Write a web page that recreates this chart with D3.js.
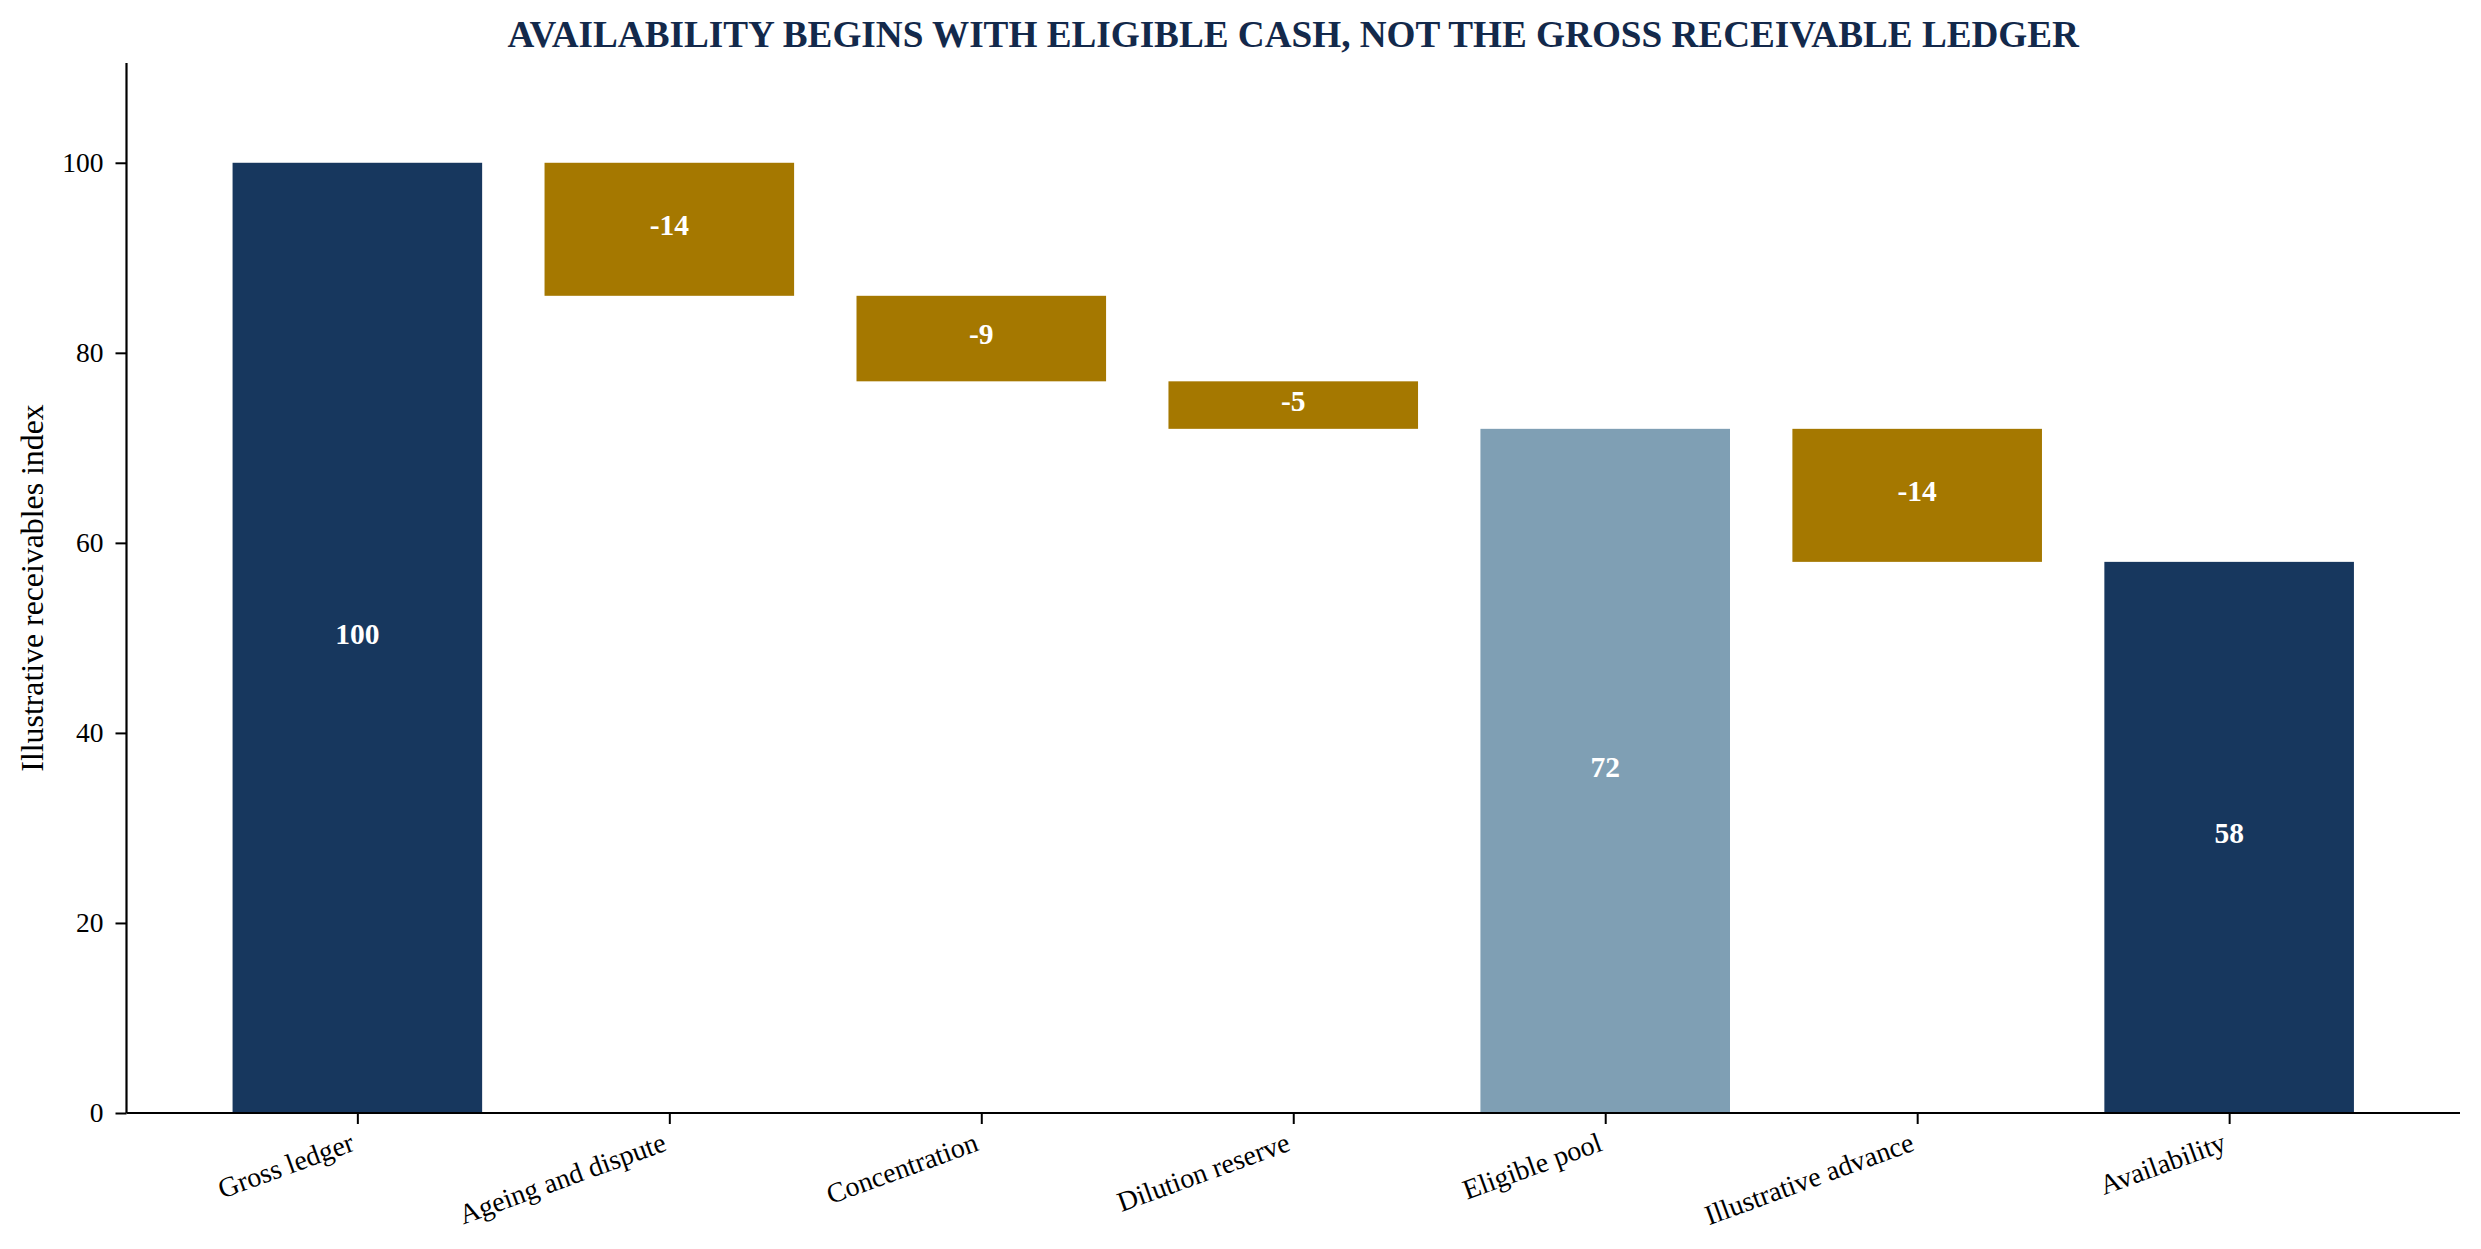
<!DOCTYPE html>
<html>
<head>
<meta charset="utf-8">
<script src="https://cdn.jsdelivr.net/npm/d3@7"></script>
<style>
  html, body { margin: 0; padding: 0; background: #ffffff; }
  svg { display: block; }
  text { font-family: "Liberation Serif", "Times New Roman", serif; }
</style>
</head>
<body>
<script>
const categories = ["Gross ledger", "Ageing and dispute", "Concentration", "Dilution reserve", "Eligible pool", "Illustrative advance", "Availability"];
const values = [100, -14, -9, -5, 72, -14, 58];
const kinds = ["total", "delta", "delta", "delta", "subtotal", "delta", "total"];
const yTicks = [0, 20, 40, 60, 80, 100];
const titleText = "AVAILABILITY BEGINS WITH ELIGIBLE CASH, NOT THE GROSS RECEIVABLE LEDGER";
const yLabelText = "Illustrative receivables index";

const colors = { total: "#17375e", delta: "#a57800", subtotal: "#7f9fb4" };

const W = 2481, H = 1249;
const mLeft = 126.5, mRight = 2460, mTop = 63, mBottom = 1113;

const svg = d3.select("body").append("svg").attr("width", W).attr("height", H);

const x = d3.scaleLinear().domain([-0.74, categories.length - 1 + 0.74]).range([mLeft, mRight]);
const y = d3.scaleLinear().domain([0, 110.5]).range([mBottom, mTop]);
const barW = x(0.8) - x(0);

// build waterfall rows
let running = 0;
const rows = categories.map((c, i) => {
  let lo, hi;
  if (kinds[i] === "delta") {
    const start = running;
    running += values[i];
    lo = Math.min(start, running); hi = Math.max(start, running);
  } else {
    running = values[i];
    lo = 0; hi = values[i];
  }
  return { cat: c, i, v: values[i], kind: kinds[i], lo, hi };
});

svg.append("g").selectAll("rect").data(rows).join("rect")
  .attr("x", d => x(d.i) - barW / 2)
  .attr("width", barW)
  .attr("y", d => y(d.hi))
  .attr("height", d => y(d.lo) - y(d.hi))
  .attr("fill", d => colors[d.kind]);

svg.append("g").selectAll("text").data(rows).join("text")
  .attr("x", d => x(d.i))
  .attr("y", d => y((d.lo + d.hi) / 2))
  .attr("dy", "0.2em")
  .attr("text-anchor", "middle")
  .attr("font-weight", "bold")
  .attr("font-size", 29.5)
  .attr("fill", "#ffffff")
  .text(d => d.v);

// y axis
const yAxis = d3.axisLeft(y).tickValues(yTicks).tickSize(11).tickPadding(12);
const gy = svg.append("g").attr("transform", `translate(${mLeft},0)`).call(yAxis);
gy.select(".domain").remove();
gy.selectAll(".tick line").attr("stroke", "#000").attr("stroke-width", 2);
gy.selectAll(".tick text").attr("font-size", 27.5).attr("fill", "#000")
  .style("font-family", '"Liberation Serif", "Times New Roman", serif');
svg.append("line").attr("x1", mLeft).attr("x2", mLeft).attr("y1", mTop).attr("y2", mBottom)
  .attr("stroke", "#000").attr("stroke-width", 2.2);

// x axis
const xAxis = d3.axisBottom(x).tickValues(d3.range(categories.length)).tickSize(11).tickFormat(i => categories[i]);
const gx = svg.append("g").attr("transform", `translate(0,${mBottom})`).call(xAxis);
gx.select(".domain").remove();
gx.selectAll(".tick line").attr("stroke", "#000").attr("stroke-width", 2);
gx.selectAll(".tick text")
  .attr("font-size", 28).attr("fill", "#000")
  .style("font-family", '"Liberation Serif", "Times New Roman", serif')
  .attr("text-anchor", "end")
  .attr("dy", null)
  .attr("y", null)
  .attr("transform", "translate(-2,37) rotate(-20)");
svg.append("line").attr("x1", mLeft).attr("x2", mRight).attr("y1", mBottom).attr("y2", mBottom)
  .attr("stroke", "#000").attr("stroke-width", 2.2);

// title
svg.append("text")
  .attr("x", (mLeft + mRight) / 2).attr("y", 47)
  .attr("text-anchor", "middle")
  .attr("font-weight", "bold")
  .attr("font-size", 37.2)
  .attr("fill", "#13294b")
  .text(titleText);

// y label
svg.append("text")
  .attr("transform", `translate(43,${(mTop + mBottom) / 2}) rotate(-90)`)
  .attr("text-anchor", "middle")
  .attr("font-size", 31.8)
  .attr("fill", "#000")
  .text(yLabelText);
</script>
</body>
</html>
